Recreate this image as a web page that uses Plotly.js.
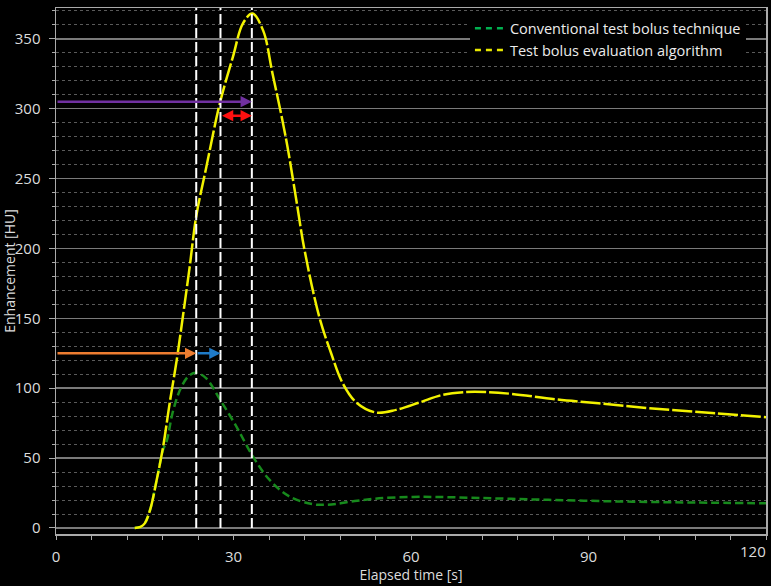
<!DOCTYPE html>
<html>
<head>
<meta charset="utf-8">
<script src="https://cdn.plot.ly/plotly-3.0.1.min.js"></script>
<style>
  html, body { margin: 0; padding: 0; background: #000; }
  #plot { width: 771px; height: 586px; }
</style>
</head>
<body>
<div id="plot"></div>
<script>
// test bolus evaluation algorithm (yellow)
var algoTime = [13.3, 14.3, 15.0, 15.9, 17.0, 18.1, 19.2, 20.4, 21.5, 22.6, 23.7, 25.4, 27.7, 29.9, 31.6, 33.2,
  35.0, 36.6, 38.9, 40.6, 42.0, 44.5, 46.5, 48.4, 50.7, 54.1, 57.5, 61.4, 65.3, 69.3, 72.6, 77.1, 84.4, 91.7,
  100.2, 111.4, 120];
var algoHU = [0, 0.8, 3.3, 12.9, 34, 58, 89, 120, 153, 187, 223, 258, 304, 337, 361, 368,
  356, 325, 278, 235, 199, 151, 125, 104, 90, 82.6, 84.5, 89.7, 95.2, 97.3, 97.3, 95.9, 92.1, 89.2,
  85.7, 82.1, 79.3];

// conventional test bolus technique (green)
var convTime = [13.3, 14.3, 15.0, 15.9, 17.0, 18.1, 18.7, 19.8, 21.2, 22.5, 23.7, 25.4, 27.7, 30.5, 33.3,
  36.1, 39.5, 43.4, 45.5, 47.3, 50.5, 54.6, 60.3, 64.2, 71.5, 80, 88.4, 97.4, 108, 120];
var convHU = [0, 0.8, 3.3, 12.9, 34, 56, 62, 84, 101, 109, 111, 107, 92, 72.5, 51,
  34.4, 22.4, 17, 16.6, 17.2, 19.3, 21.2, 22.2, 22.2, 21.5, 20.5, 19.6, 18.8, 18.2, 17.7];

// dashed markers: conventional peak, algorithm threshold, algorithm peak
var markTimes = [23.7, 27.8, 33.1];
var thresholdHU = 305;
var delayHU = 295;
var convLevel = 125;

var xTicks = [0, 30, 60, 90, 120];
// last label sits inside the right edge (drawn as annotation below)
var xTickText = ['0', '30', '60', '90', ''];
var xLastLabel = '120';

var names = ["Conventional test bolus technique", "Test bolus evaluation algorithm"];

var font = "'Open Sans', 'Noto Sans', sans-serif";

var conv = {
  name: names[0], x: convTime, y: convHU, type: 'scatter', mode: 'lines',
  line: {color: '#178a1c', width: 2.5, dash: '8px,4px', shape: 'spline'},
  showlegend: false, hoverinfo: 'skip'
};
var algo = {
  name: names[1], x: algoTime, y: algoHU, type: 'scatter', mode: 'lines',
  line: {color: '#f2f200', width: 2.5, dash: '20px,3px', shape: 'spline'},
  showlegend: false, hoverinfo: 'skip'
};
// legend entries only
var convKey = {name: names[0], x: [null], y: [null], type: 'scatter', mode: 'lines',
  line: {color: '#00b050', width: 2.5, dash: '6px,5px'}};
var algoKey = {name: names[1], x: [null], y: [null], type: 'scatter', mode: 'lines',
  line: {color: '#e8e800', width: 2.5, dash: '6px,5px'}};

var shapes = markTimes.map(t => ({
  type: 'line', xref: 'x', yref: 'y', x0: t, x1: t, y0: 0, y1: 372,
  line: {color: '#ffffff', width: 2, dash: '10px,4px'}
}));

function arrow(x0, x1, y, color, both) {
  return {
    x: x1, y: y, ax: x0, ay: y, xref: 'x', yref: 'y', axref: 'x', ayref: 'y',
    text: '', showarrow: true, arrowhead: 2, arrowsize: 0.9, arrowwidth: 2.5,
    arrowcolor: color, arrowside: both ? 'end+start' : 'end', standoff: 0, startstandoff: 0,
    startarrowhead: 2, startarrowsize: 0.9
  };
}

var annotations = [
  arrow(0, markTimes[2], thresholdHU, '#7030a0'),
  arrow(markTimes[1], markTimes[2], delayHU, '#ff1010', true),
  arrow(0, markTimes[0], convLevel, '#ed7d31'),
  arrow(markTimes[0], markTimes[1], convLevel, '#1f7bc8'),
  {x: xTicks[4], y: 0, xref: 'x', yref: 'paper', text: xLastLabel, showarrow: false,
    xanchor: 'right', yanchor: 'top', yshift: -5, xshift: 2, font: {size: 15, color: '#dcdcdc'}}
];

var layout = {
  width: 771, height: 586,
  paper_bgcolor: '#000', plot_bgcolor: '#000',
  font: {family: font, color: '#dcdcdc', size: 15},
  margin: {l: 56, r: 5, t: 8, b: 52},
  showlegend: true,
  legend: {x: 0.583, y: 0.992, xanchor: 'left', yanchor: 'top', bgcolor: '#000',
    font: {size: 14.5, color: '#ececec'}, traceorder: 'normal', itemwidth: 30, tracegroupgap: 0},
  xaxis: {
    range: [0, 120], tickmode: 'array', tickvals: xTicks, ticktext: xTickText,
    ticks: 'outside', ticklen: 4, tickcolor: '#aaa',
    showgrid: false, zeroline: false, showline: true, linecolor: '#aaa', linewidth: 1.5,
    mirror: true, ticklabelstandoff: 4,
    minor: {dtick: 6, ticks: 'outside', ticklen: 4, tickcolor: '#aaa', showgrid: false},
    title: {text: 'Elapsed time [s]', font: {size: 14, color: '#dcdcdc'}, standoff: 5}
  },
  yaxis: {
    range: [-4.3, 372], dtick: 50, tick0: 0, ticks: 'outside', ticklen: 6, tickcolor: '#aaa',
    showgrid: true, gridcolor: '#7a7a7a', gridwidth: 1.5, zeroline: false,
    showline: true, linecolor: '#aaa', linewidth: 1.5, mirror: true, ticklabelstandoff: 5,
    minor: {dtick: 10, ticks: 'outside', ticklen: 3, tickcolor: '#aaa', showgrid: true,
      gridcolor: '#5a5a5a', gridwidth: 1, griddash: 'dot'},
    title: {text: 'Enhancement [HU]', font: {size: 14, color: '#dcdcdc'}, standoff: 5}
  },
  shapes: shapes,
  annotations: annotations
};

Plotly.newPlot('plot', [conv, algo, convKey, algoKey], layout, {staticPlot: true});
</script>
</body>
</html>
